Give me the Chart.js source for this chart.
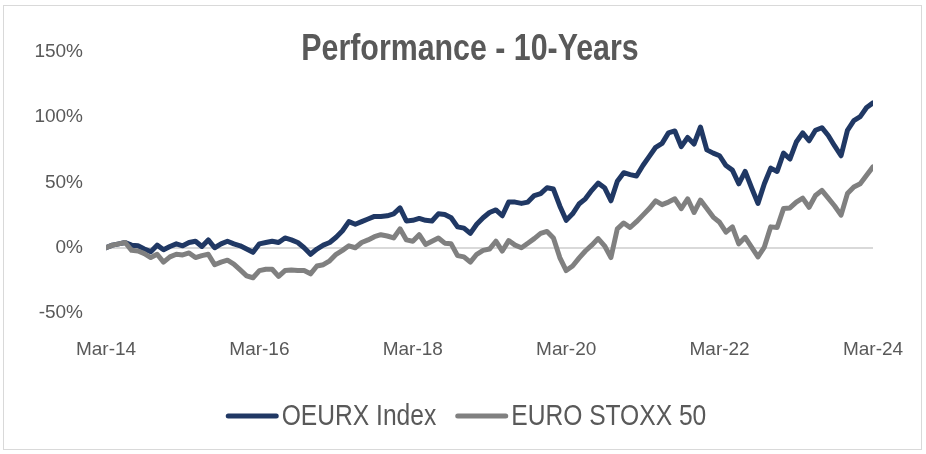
<!DOCTYPE html>
<html>
<head>
<meta charset="utf-8">
<script src="https://cdn.jsdelivr.net/npm/chart.js@4"></script>
<style>
  html, body { margin: 0; padding: 0; background: #fff; }
  #wrap { position: relative; width: 926px; height: 454px; }
</style>
</head>
<body>
<div id="wrap"><canvas id="perfChart" width="926" height="454"></canvas></div>
<script>
// Monthly cumulative performance (%), Mar-14 .. Mar-24 (121 months)
const oeurx = [
  0, 2, 3, 4, 2, 1.5, -1, -3, 2, -1.5,
  1, 3, 1.5, 4, 5, 1, 6, 0, 3, 5,
  3, 1.5, -1, -3.5, 3, 4, 5, 4, 7.5, 6,
  4, 0, -5, -1, 2, 4, 8, 13, 20, 18,
  20, 22, 24, 24, 24.5, 26, 30.5, 20.5, 21, 22.5,
  21, 20.5, 26, 25.5, 23, 16, 15, 11, 18, 23,
  27, 29, 24.5, 35, 35, 34, 35, 40, 41.5, 46,
  45, 32, 21, 26, 33.5, 37.5, 44, 49.5, 46, 36,
  51, 57.5, 56, 55, 63, 70, 77, 80, 88, 89.5,
  77.5, 84.5, 79.5, 92.5, 75, 72.5, 70.5, 63, 59.5, 49,
  58.5, 46, 34, 49, 61, 58.5, 72.5, 68, 81, 88,
  82, 90, 92, 86, 78, 70.5, 90, 97.5, 100.5, 107.5,
  111
];
const stoxx50 = [
  0, 2, 3, 4, -2, -2.5, -4.5, -7.5, -5, -11,
  -7, -5, -5.5, -4, -7.5, -6, -5, -13, -11, -9.5,
  -12.5, -17, -21.5, -23, -17.5, -16.5, -16.5, -22, -17.5, -17,
  -17.5, -17.5, -20, -14, -13, -10, -5, -2, 1.5, 0,
  4, 6, 8.5, 10, 9, 7.5, 14.5, 6, 5, 10,
  2.5, 5, 7.5, 3.5, 3, -6, -7, -11, -5, -2,
  -1, 5, -2.5, 5.5, 2, 0, 3.5, 7, 11, 12.5,
  7.5, -7.5, -17.5, -14, -8, -2.5, 2, 7, 1.5, -7.5,
  14.5, 19, 15.5, 20, 25, 30, 36, 33, 35, 37.5,
  30, 37.5, 27, 36.5, 30, 23.5, 19.5, 12, 16, 3,
  8, 0.5, -7, 0.5, 16, 15.5, 30, 30.5, 35, 38,
  31, 40, 44, 38, 32, 25, 41.5, 46.5, 49, 55.5,
  62
];
const seriesNames = ['OEURX Index', 'EURO STOXX 50'];
const seriesColors = ['#203864', '#808080'];
const xTickLabels = ['Mar-14', 'Mar-16', 'Mar-18', 'Mar-20', 'Mar-22', 'Mar-24'];
const yTicks = [-50, 0, 50, 100, 150];

const TEXT = '#595959';
const FONT = '"Liberation Sans Narrow", "Arial Narrow", "Liberation Sans", Arial, sans-serif';
const NARROW = 0.82; // no narrow face installed, so squeeze the big texts by hand

const toPoints = arr => arr.map((v, i) => ({ x: i, y: v }));

function narrowText(c, text, x, y) {
  c.save();
  c.translate(x, y);
  c.scale(NARROW, 1);
  c.fillText(text, 0, 0);
  c.restore();
}

// frame, title and legend are drawn by hand to sit where Excel put them
const decorations = {
  id: 'decorations',
  beforeDraw(chart) {
    const c = chart.ctx;
    c.save();
    c.strokeStyle = '#d9d9d9';
    c.lineWidth = 1;
    c.strokeRect(3.5, 5.5, 918, 444);
    c.restore();
  },
  afterDraw(chart) {
    const c = chart.ctx;
    c.save();
    c.fillStyle = TEXT;
    c.textAlign = 'center';
    c.textBaseline = 'middle';
    c.font = 'bold 37px ' + FONT;
    narrowText(c, 'Performance - 10-Years', 470, 50);

    // legend
    c.font = '30px ' + FONT;
    c.textAlign = 'left';
    const sample = 48, cap = 2.5, gap = 3, spacing = 19;
    const widths = seriesNames.map(n => c.measureText(n).width * NARROW);
    const total = seriesNames.length * (sample + 2 * cap + gap) + widths.reduce((a, b) => a + b, 0) + spacing;
    let x = 466 - total / 2;
    const y = 416;
    seriesNames.forEach((name, i) => {
      c.strokeStyle = seriesColors[i];
      c.lineWidth = 5;
      c.lineCap = 'round';
      c.beginPath();
      c.moveTo(x + cap, y);
      c.lineTo(x + cap + sample, y);
      c.stroke();
      x += sample + 2 * cap + gap;
      narrowText(c, name, x, y + 1);
      x += widths[i] + spacing;
    });
    c.restore();
  }
};

new Chart(document.getElementById('perfChart'), {
  type: 'line',
  data: {
    datasets: [
      {
        label: seriesNames[0],
        data: toPoints(oeurx),
        borderColor: seriesColors[0],
        backgroundColor: seriesColors[0],
        borderWidth: 5,
        borderJoinStyle: 'round',
        borderCapStyle: 'round',
        pointRadius: 0,
        tension: 0,
        order: 1
      },
      {
        label: seriesNames[1],
        data: toPoints(stoxx50),
        borderColor: seriesColors[1],
        backgroundColor: seriesColors[1],
        borderWidth: 5,
        borderJoinStyle: 'round',
        borderCapStyle: 'round',
        pointRadius: 0,
        tension: 0,
        order: 0
      }
    ]
  },
  options: {
    responsive: false,
    animation: false,
    layout: { padding: { left: 0, right: 53, top: 52, bottom: 81 } },
    plugins: {
      legend: { display: false },
      title: { display: false },
      tooltip: { enabled: false }
    },
    scales: {
      x: {
        type: 'linear',
        min: 0,
        max: 120,
        grid: { display: false },
        border: { display: false },
        afterFit: s => { s.height = 60; },
        afterBuildTicks: s => { s.ticks = xTickLabels.map((_, i) => ({ value: i * 24 })); },
        ticks: {
          autoSkip: false,
          maxRotation: 0,
          padding: 17,
          color: TEXT,
          font: { family: FONT, size: 19 },
          callback: v => xTickLabels[v / 24]
        }
      },
      y: {
        min: -50,
        max: 150,
        afterFit: s => { s.width = 106; },
        afterBuildTicks: s => { s.ticks = yTicks.map(v => ({ value: v })); },
        border: { display: false },
        grid: {
          drawTicks: false,
          lineWidth: 2,
          color: ctx => (ctx.tick && ctx.tick.value === 0 ? '#d9d9d9' : 'rgba(0,0,0,0)')
        },
        ticks: {
          padding: 23,
          color: TEXT,
          font: { family: FONT, size: 19 },
          callback: v => v + '%'
        }
      }
    }
  },
  plugins: [decorations]
});
</script>
</body>
</html>
